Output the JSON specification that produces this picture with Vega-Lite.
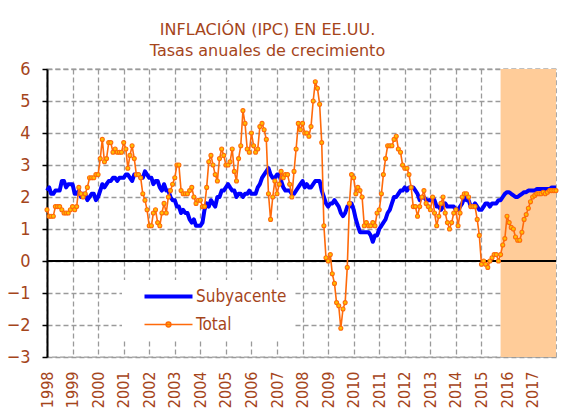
{
"$schema": "https://vega.github.io/schema/vega-lite/v6.json",
"width": 509, "height": 288,
"autosize": "none",
"padding": {"left": 47, "top": 69, "right": 13, "bottom": 63},
"background": "white",
"title": {"text": ["INFLACIÓN (IPC) EN EE.UU.", "Tasas anuales de crecimiento"], "font": "DejaVu Sans", "fontSize": 16, "fontWeight": "normal", "color": "#A5451B", "anchor": "middle", "dx": -34, "offset": 1, "lineHeight": 21},
"data": {"values": [
{"fecha":"1998-01","Subyacente":2.2,"Total":1.6},{"fecha":"1998-02","Subyacente":2.3,"Total":1.4},{"fecha":"1998-03","Subyacente":2.1,"Total":1.4},{"fecha":"1998-04","Subyacente":2.1,"Total":1.4},{"fecha":"1998-05","Subyacente":2.2,"Total":1.7},{"fecha":"1998-06","Subyacente":2.2,"Total":1.7},{"fecha":"1998-07","Subyacente":2.2,"Total":1.7},{"fecha":"1998-08","Subyacente":2.5,"Total":1.6},{"fecha":"1998-09","Subyacente":2.5,"Total":1.5},{"fecha":"1998-10","Subyacente":2.3,"Total":1.5},{"fecha":"1998-11","Subyacente":2.4,"Total":1.5},{"fecha":"1998-12","Subyacente":2.4,"Total":1.6},
{"fecha":"1999-01","Subyacente":2.4,"Total":1.7},{"fecha":"1999-02","Subyacente":2.1,"Total":1.6},{"fecha":"1999-03","Subyacente":2.1,"Total":1.7},{"fecha":"1999-04","Subyacente":2.2,"Total":2.3},{"fecha":"1999-05","Subyacente":2.0,"Total":2.1},{"fecha":"1999-06","Subyacente":2.1,"Total":2.0},{"fecha":"1999-07","Subyacente":2.1,"Total":2.1},{"fecha":"1999-08","Subyacente":1.9,"Total":2.3},{"fecha":"1999-09","Subyacente":2.0,"Total":2.6},{"fecha":"1999-10","Subyacente":2.1,"Total":2.6},{"fecha":"1999-11","Subyacente":2.1,"Total":2.6},{"fecha":"1999-12","Subyacente":1.9,"Total":2.7},
{"fecha":"2000-01","Subyacente":2.0,"Total":2.7},{"fecha":"2000-02","Subyacente":2.2,"Total":3.2},{"fecha":"2000-03","Subyacente":2.4,"Total":3.8},{"fecha":"2000-04","Subyacente":2.3,"Total":3.1},{"fecha":"2000-05","Subyacente":2.4,"Total":3.2},{"fecha":"2000-06","Subyacente":2.5,"Total":3.7},{"fecha":"2000-07","Subyacente":2.5,"Total":3.7},{"fecha":"2000-08","Subyacente":2.6,"Total":3.4},{"fecha":"2000-09","Subyacente":2.6,"Total":3.5},{"fecha":"2000-10","Subyacente":2.5,"Total":3.4},{"fecha":"2000-11","Subyacente":2.6,"Total":3.4},{"fecha":"2000-12","Subyacente":2.6,"Total":3.4},
{"fecha":"2001-01","Subyacente":2.6,"Total":3.7},{"fecha":"2001-02","Subyacente":2.7,"Total":3.5},{"fecha":"2001-03","Subyacente":2.7,"Total":2.9},{"fecha":"2001-04","Subyacente":2.6,"Total":3.3},{"fecha":"2001-05","Subyacente":2.5,"Total":3.6},{"fecha":"2001-06","Subyacente":2.7,"Total":3.2},{"fecha":"2001-07","Subyacente":2.7,"Total":2.7},{"fecha":"2001-08","Subyacente":2.7,"Total":2.7},{"fecha":"2001-09","Subyacente":2.6,"Total":2.6},{"fecha":"2001-10","Subyacente":2.6,"Total":2.1},{"fecha":"2001-11","Subyacente":2.8,"Total":1.9},{"fecha":"2001-12","Subyacente":2.7,"Total":1.6},
{"fecha":"2002-01","Subyacente":2.6,"Total":1.1},{"fecha":"2002-02","Subyacente":2.6,"Total":1.1},{"fecha":"2002-03","Subyacente":2.4,"Total":1.5},{"fecha":"2002-04","Subyacente":2.5,"Total":1.6},{"fecha":"2002-05","Subyacente":2.5,"Total":1.2},{"fecha":"2002-06","Subyacente":2.3,"Total":1.1},{"fecha":"2002-07","Subyacente":2.2,"Total":1.5},{"fecha":"2002-08","Subyacente":2.4,"Total":1.8},{"fecha":"2002-09","Subyacente":2.2,"Total":1.5},{"fecha":"2002-10","Subyacente":2.2,"Total":2.0},{"fecha":"2002-11","Subyacente":2.0,"Total":2.2},{"fecha":"2002-12","Subyacente":1.9,"Total":2.4},
{"fecha":"2003-01","Subyacente":1.9,"Total":2.6},{"fecha":"2003-02","Subyacente":1.7,"Total":3.0},{"fecha":"2003-03","Subyacente":1.7,"Total":3.0},{"fecha":"2003-04","Subyacente":1.5,"Total":2.2},{"fecha":"2003-05","Subyacente":1.6,"Total":2.1},{"fecha":"2003-06","Subyacente":1.5,"Total":2.1},{"fecha":"2003-07","Subyacente":1.5,"Total":2.1},{"fecha":"2003-08","Subyacente":1.3,"Total":2.2},{"fecha":"2003-09","Subyacente":1.2,"Total":2.3},{"fecha":"2003-10","Subyacente":1.3,"Total":2.0},{"fecha":"2003-11","Subyacente":1.1,"Total":1.8},{"fecha":"2003-12","Subyacente":1.1,"Total":1.9},
{"fecha":"2004-01","Subyacente":1.1,"Total":1.9},{"fecha":"2004-02","Subyacente":1.2,"Total":1.7},{"fecha":"2004-03","Subyacente":1.6,"Total":1.7},{"fecha":"2004-04","Subyacente":1.8,"Total":2.3},{"fecha":"2004-05","Subyacente":1.7,"Total":3.1},{"fecha":"2004-06","Subyacente":1.9,"Total":3.3},{"fecha":"2004-07","Subyacente":1.8,"Total":3.0},{"fecha":"2004-08","Subyacente":1.7,"Total":2.7},{"fecha":"2004-09","Subyacente":2.0,"Total":2.5},{"fecha":"2004-10","Subyacente":2.0,"Total":3.2},{"fecha":"2004-11","Subyacente":2.2,"Total":3.5},{"fecha":"2004-12","Subyacente":2.2,"Total":3.3},
{"fecha":"2005-01","Subyacente":2.3,"Total":3.0},{"fecha":"2005-02","Subyacente":2.4,"Total":3.0},{"fecha":"2005-03","Subyacente":2.3,"Total":3.1},{"fecha":"2005-04","Subyacente":2.2,"Total":3.5},{"fecha":"2005-05","Subyacente":2.2,"Total":2.8},{"fecha":"2005-06","Subyacente":2.0,"Total":2.5},{"fecha":"2005-07","Subyacente":2.1,"Total":3.2},{"fecha":"2005-08","Subyacente":2.1,"Total":3.6},{"fecha":"2005-09","Subyacente":2.0,"Total":4.7},{"fecha":"2005-10","Subyacente":2.1,"Total":4.3},{"fecha":"2005-11","Subyacente":2.1,"Total":3.5},{"fecha":"2005-12","Subyacente":2.2,"Total":3.4},
{"fecha":"2006-01","Subyacente":2.1,"Total":4.0},{"fecha":"2006-02","Subyacente":2.1,"Total":3.6},{"fecha":"2006-03","Subyacente":2.1,"Total":3.4},{"fecha":"2006-04","Subyacente":2.3,"Total":3.5},{"fecha":"2006-05","Subyacente":2.4,"Total":4.2},{"fecha":"2006-06","Subyacente":2.6,"Total":4.3},{"fecha":"2006-07","Subyacente":2.7,"Total":4.1},{"fecha":"2006-08","Subyacente":2.8,"Total":3.8},{"fecha":"2006-09","Subyacente":2.9,"Total":2.1},{"fecha":"2006-10","Subyacente":2.7,"Total":1.3},{"fecha":"2006-11","Subyacente":2.6,"Total":2.0},{"fecha":"2006-12","Subyacente":2.6,"Total":2.5},
{"fecha":"2007-01","Subyacente":2.7,"Total":2.1},{"fecha":"2007-02","Subyacente":2.7,"Total":2.4},{"fecha":"2007-03","Subyacente":2.5,"Total":2.8},{"fecha":"2007-04","Subyacente":2.3,"Total":2.6},{"fecha":"2007-05","Subyacente":2.2,"Total":2.7},{"fecha":"2007-06","Subyacente":2.2,"Total":2.7},{"fecha":"2007-07","Subyacente":2.2,"Total":2.4},{"fecha":"2007-08","Subyacente":2.1,"Total":2.0},{"fecha":"2007-09","Subyacente":2.1,"Total":2.8},{"fecha":"2007-10","Subyacente":2.2,"Total":3.5},{"fecha":"2007-11","Subyacente":2.3,"Total":4.3},{"fecha":"2007-12","Subyacente":2.4,"Total":4.1},
{"fecha":"2008-01","Subyacente":2.5,"Total":4.3},{"fecha":"2008-02","Subyacente":2.3,"Total":4.0},{"fecha":"2008-03","Subyacente":2.4,"Total":4.0},{"fecha":"2008-04","Subyacente":2.3,"Total":3.9},{"fecha":"2008-05","Subyacente":2.3,"Total":4.2},{"fecha":"2008-06","Subyacente":2.4,"Total":5.0},{"fecha":"2008-07","Subyacente":2.5,"Total":5.6},{"fecha":"2008-08","Subyacente":2.5,"Total":5.4},{"fecha":"2008-09","Subyacente":2.5,"Total":4.9},{"fecha":"2008-10","Subyacente":2.2,"Total":3.7},{"fecha":"2008-11","Subyacente":2.0,"Total":1.1},{"fecha":"2008-12","Subyacente":1.8,"Total":0.1},
{"fecha":"2009-01","Subyacente":1.7,"Total":0.0},{"fecha":"2009-02","Subyacente":1.8,"Total":0.2},{"fecha":"2009-03","Subyacente":1.8,"Total":-0.4},{"fecha":"2009-04","Subyacente":1.9,"Total":-0.7},{"fecha":"2009-05","Subyacente":1.8,"Total":-1.3},{"fecha":"2009-06","Subyacente":1.7,"Total":-1.4},{"fecha":"2009-07","Subyacente":1.5,"Total":-2.1},{"fecha":"2009-08","Subyacente":1.4,"Total":-1.5},{"fecha":"2009-09","Subyacente":1.5,"Total":-1.3},{"fecha":"2009-10","Subyacente":1.7,"Total":-0.2},{"fecha":"2009-11","Subyacente":1.7,"Total":1.8},{"fecha":"2009-12","Subyacente":1.8,"Total":2.7},
{"fecha":"2010-01","Subyacente":1.6,"Total":2.6},{"fecha":"2010-02","Subyacente":1.3,"Total":2.1},{"fecha":"2010-03","Subyacente":1.1,"Total":2.3},{"fecha":"2010-04","Subyacente":0.9,"Total":2.2},{"fecha":"2010-05","Subyacente":0.9,"Total":2.0},{"fecha":"2010-06","Subyacente":0.9,"Total":1.1},{"fecha":"2010-07","Subyacente":0.9,"Total":1.2},{"fecha":"2010-08","Subyacente":0.9,"Total":1.1},{"fecha":"2010-09","Subyacente":0.8,"Total":1.1},{"fecha":"2010-10","Subyacente":0.6,"Total":1.2},{"fecha":"2010-11","Subyacente":0.8,"Total":1.1},{"fecha":"2010-12","Subyacente":0.8,"Total":1.5},
{"fecha":"2011-01","Subyacente":1.0,"Total":1.6},{"fecha":"2011-02","Subyacente":1.1,"Total":2.1},{"fecha":"2011-03","Subyacente":1.2,"Total":2.7},{"fecha":"2011-04","Subyacente":1.3,"Total":3.2},{"fecha":"2011-05","Subyacente":1.5,"Total":3.6},{"fecha":"2011-06","Subyacente":1.6,"Total":3.6},{"fecha":"2011-07","Subyacente":1.8,"Total":3.6},{"fecha":"2011-08","Subyacente":2.0,"Total":3.8},{"fecha":"2011-09","Subyacente":2.0,"Total":3.9},{"fecha":"2011-10","Subyacente":2.1,"Total":3.5},{"fecha":"2011-11","Subyacente":2.2,"Total":3.4},{"fecha":"2011-12","Subyacente":2.2,"Total":3.0},
{"fecha":"2012-01","Subyacente":2.3,"Total":2.9},{"fecha":"2012-02","Subyacente":2.2,"Total":2.9},{"fecha":"2012-03","Subyacente":2.3,"Total":2.7},{"fecha":"2012-04","Subyacente":2.3,"Total":2.3},{"fecha":"2012-05","Subyacente":2.3,"Total":1.7},{"fecha":"2012-06","Subyacente":2.2,"Total":1.7},{"fecha":"2012-07","Subyacente":2.1,"Total":1.4},{"fecha":"2012-08","Subyacente":1.9,"Total":1.7},{"fecha":"2012-09","Subyacente":2.0,"Total":2.0},{"fecha":"2012-10","Subyacente":2.0,"Total":2.2},{"fecha":"2012-11","Subyacente":1.9,"Total":1.8},{"fecha":"2012-12","Subyacente":1.9,"Total":1.7},
{"fecha":"2013-01","Subyacente":1.9,"Total":1.6},{"fecha":"2013-02","Subyacente":2.0,"Total":2.0},{"fecha":"2013-03","Subyacente":1.9,"Total":1.5},{"fecha":"2013-04","Subyacente":1.7,"Total":1.1},{"fecha":"2013-05","Subyacente":1.7,"Total":1.4},{"fecha":"2013-06","Subyacente":1.6,"Total":1.8},{"fecha":"2013-07","Subyacente":1.7,"Total":2.0},{"fecha":"2013-08","Subyacente":1.8,"Total":1.5},{"fecha":"2013-09","Subyacente":1.7,"Total":1.2},{"fecha":"2013-10","Subyacente":1.7,"Total":1.0},{"fecha":"2013-11","Subyacente":1.7,"Total":1.2},{"fecha":"2013-12","Subyacente":1.7,"Total":1.5},
{"fecha":"2014-01","Subyacente":1.6,"Total":1.6},{"fecha":"2014-02","Subyacente":1.6,"Total":1.1},{"fecha":"2014-03","Subyacente":1.7,"Total":1.5},{"fecha":"2014-04","Subyacente":1.8,"Total":2.0},{"fecha":"2014-05","Subyacente":2.0,"Total":2.1},{"fecha":"2014-06","Subyacente":1.9,"Total":2.1},{"fecha":"2014-07","Subyacente":1.9,"Total":2.0},{"fecha":"2014-08","Subyacente":1.7,"Total":1.7},{"fecha":"2014-09","Subyacente":1.7,"Total":1.7},{"fecha":"2014-10","Subyacente":1.8,"Total":1.7},{"fecha":"2014-11","Subyacente":1.7,"Total":1.3},{"fecha":"2014-12","Subyacente":1.6,"Total":0.8},
{"fecha":"2015-01","Subyacente":1.6,"Total":-0.1},{"fecha":"2015-02","Subyacente":1.7,"Total":0.0},{"fecha":"2015-03","Subyacente":1.8,"Total":-0.1},{"fecha":"2015-04","Subyacente":1.8,"Total":-0.2},{"fecha":"2015-05","Subyacente":1.7,"Total":0.0},{"fecha":"2015-06","Subyacente":1.8,"Total":0.1},{"fecha":"2015-07","Subyacente":1.8,"Total":0.2},{"fecha":"2015-08","Subyacente":1.8,"Total":0.2},{"fecha":"2015-09","Subyacente":1.9,"Total":0.0},{"fecha":"2015-10","Subyacente":1.9,"Total":0.2},{"fecha":"2015-11","Subyacente":2.0,"Total":0.5},{"fecha":"2015-12","Subyacente":2.1,"Total":0.7},
{"fecha":"2016-01","Subyacente":2.15,"Total":1.4},{"fecha":"2016-02","Subyacente":2.15,"Total":1.2},{"fecha":"2016-03","Subyacente":2.1,"Total":1.05},{"fecha":"2016-04","Subyacente":2.05,"Total":1.0},{"fecha":"2016-05","Subyacente":2.0,"Total":0.75},{"fecha":"2016-06","Subyacente":2.0,"Total":0.65},{"fecha":"2016-07","Subyacente":2.05,"Total":0.65},{"fecha":"2016-08","Subyacente":2.1,"Total":0.9},{"fecha":"2016-09","Subyacente":2.15,"Total":1.3},{"fecha":"2016-10","Subyacente":2.15,"Total":1.45},{"fecha":"2016-11","Subyacente":2.2,"Total":1.65},{"fecha":"2016-12","Subyacente":2.2,"Total":1.85},
{"fecha":"2017-01","Subyacente":2.2,"Total":2.0},{"fecha":"2017-02","Subyacente":2.2,"Total":2.05},{"fecha":"2017-03","Subyacente":2.25,"Total":2.1},{"fecha":"2017-04","Subyacente":2.25,"Total":2.1},{"fecha":"2017-05","Subyacente":2.25,"Total":2.1},{"fecha":"2017-06","Subyacente":2.25,"Total":2.15},{"fecha":"2017-07","Subyacente":2.25,"Total":2.1},{"fecha":"2017-08","Subyacente":2.25,"Total":2.15},{"fecha":"2017-09","Subyacente":2.25,"Total":2.2},{"fecha":"2017-10","Subyacente":2.3,"Total":2.2},{"fecha":"2017-11","Subyacente":2.3,"Total":2.2},{"fecha":"2017-12","Subyacente":2.3,"Total":2.2}
]},
"layer": [
{"data": {"values": [{"fecha": "2015-10", "fin": "2017-12"}]},
 "mark": {"type": "rect", "color": "#FFCC99"},
 "encoding": {
  "x": {"field": "fecha", "type": "temporal"},
  "x2": {"field": "fin"}}},
{"mark": {"type": "rule", "color": "black", "strokeWidth": 1.5},
 "encoding": {"y": {"datum": 0, "type": "quantitative"}}},
{"mark": {"type": "line", "strokeWidth": 4, "strokeJoin": "round"},
 "encoding": {
  "x": {"field": "fecha", "type": "temporal",
   "scale": {"type": "utc", "domain": [{"year": 1998, "month": 1, "date": 1, "utc": true}, {"year": 2017, "month": 12, "date": 1, "utc": true}]},
   "axis": {"title": null, "grid": true, "format": "%Y", "formatType": "utc", "labelFlush": false, "labelOverlap": false, "tickCount": 40,
    "values": [{"year":1998,"utc":true},{"year":1999,"utc":true},{"year":2000,"utc":true},{"year":2001,"utc":true},{"year":2002,"utc":true},{"year":2003,"utc":true},{"year":2004,"utc":true},{"year":2005,"utc":true},{"year":2006,"utc":true},{"year":2007,"utc":true},{"year":2008,"utc":true},{"year":2009,"utc":true},{"year":2010,"utc":true},{"year":2011,"utc":true},{"year":2012,"utc":true},{"year":2013,"utc":true},{"year":2014,"utc":true},{"year":2015,"utc":true},{"year":2016,"utc":true},{"year":2017,"utc":true}]}},
  "y": {"field": "Subyacente", "type": "quantitative",
   "scale": {"domain": [-3, 6], "nice": false, "zero": false},
   "axis": {"title": null, "grid": true, "format": "d", "values": [-3, -2, -1, 0, 1, 2, 3, 4, 5, 6], "labelOverlap": false, "tickCount": 20}},
  "color": {"datum": "Subyacente", "type": "nominal",
   "scale": {"domain": ["Subyacente", "Total"], "range": ["#0000FF", "#FF6A0A"]},
   "legend": {"orient": "none", "legendX": 75, "legendY": 211, "title": null, "fillColor": "#FFFFFF", "padding": 8,
    "symbolSize": 144, "symbolOffset": 30, "labelOffset": 19, "labelFontSize": 17, "labelColor": "#A5451B", "labelFont": "DejaVu Sans Condensed, DejaVu Sans", "rowPadding": 10,
    "encode": {"symbols": {"update": {
      "shape": {"signal": "datum.value === 'Total' ? 'M-4,0H4M0.4,0A0.4,0.4,0,1,1,-0.4,0A0.4,0.4,0,1,1,0.4,0' : 'M-4,0H4'"},
      "fill": {"signal": "datum.value === 'Total' ? '#FFC000' : 'transparent'"},
      "strokeWidth": {"signal": "datum.value === 'Total' ? 1.5 : 4"}}}}}}}},
{"mark": {"type": "line", "strokeWidth": 1.6, "strokeJoin": "round"},
 "encoding": {
  "x": {"field": "fecha", "type": "temporal"},
  "y": {"field": "Total", "type": "quantitative"},
  "color": {"datum": "Total", "type": "nominal"}}},
{"mark": {"type": "point", "filled": true, "fill": "#FFC000", "stroke": "#FF6A0A", "strokeWidth": 1.1, "size": 16, "opacity": 1},
 "encoding": {
  "x": {"field": "fecha", "type": "temporal"},
  "y": {"field": "Total", "type": "quantitative"}}}
],
"config": {
 "view": {"stroke": "#9A9A9A", "strokeDash": [5, 3], "strokeWidth": 1.3},
 "axis": {"grid": true, "gridColor": "#9A9A9A", "gridDash": [5, 3], "gridWidth": 1.3, "gridOpacity": 1, "labelColor": "#A5451B", "labelFont": "DejaVu Sans Condensed, DejaVu Sans"},
 "axisX": {"domain": false, "ticks": false, "tickSize": 0, "labelAngle": 270, "labelPadding": 14, "labelFontSize": 16, "tickCount": 40},
 "axisY": {"domainColor": "#000000", "domainWidth": 2, "tickColor": "#000000", "tickSize": 5, "tickWidth": 1.5, "labelFontSize": 18, "labelPadding": 12, "tickCount": 20}
}
}
